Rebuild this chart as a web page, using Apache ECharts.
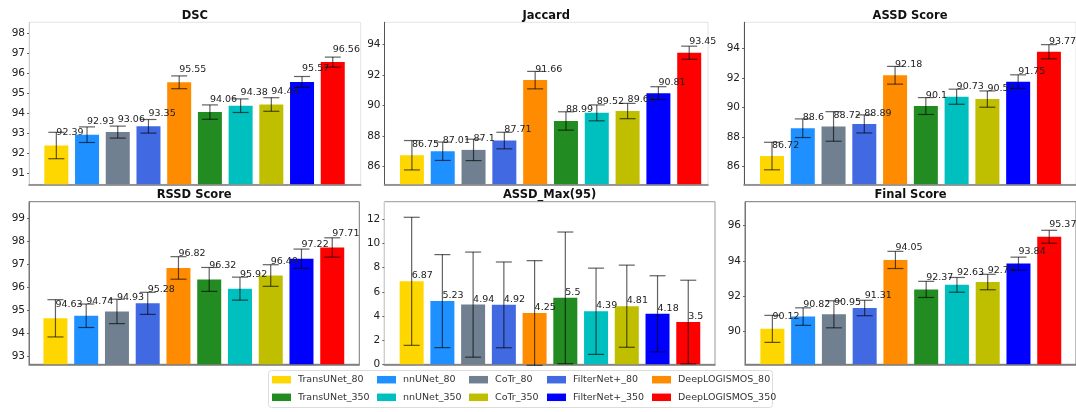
<!DOCTYPE html>
<html>
<head>
<meta charset="utf-8">
<script src="https://cdn.jsdelivr.net/npm/echarts@6/dist/echarts.min.js"></script>
<style>html,body{margin:0;padding:0;background:#fff;}#c{width:1076px;height:412px;}</style>
</head>
<body>
<div id="c"></div>
<script>
const models = ['TransUNet_80','nnUNet_80','CoTr_80','FilterNet+_80','DeepLOGISMOS_80','TransUNet_350','nnUNet_350','CoTr_350','FilterNet+_350','DeepLOGISMOS_350'];
const colors = ['#FFD700','#1E90FF','#708090','#4169E1','#FF8C00','#228B22','#00BFBF','#BFBF00','#0000FF','#FF0000'];

const titles = ['DSC','Jaccard','ASSD Score','RSSD Score','ASSD_Max(95)','Final Score'];

const dscVals = [92.39,92.93,93.06,93.35,95.55,94.06,94.38,94.44,95.57,96.56];
const dscErr  = [0.66,0.39,0.30,0.34,0.32,0.36,0.34,0.34,0.27,0.25];
const jacVals = [86.75,87.01,87.1,87.71,91.66,88.99,89.52,89.64,90.81,93.45];
const jacErr  = [0.96,0.60,0.70,0.54,0.57,0.60,0.52,0.50,0.42,0.43];
const assdVals = [86.72,88.6,88.72,88.89,92.18,90.1,90.73,90.57,91.75,93.77];
const assdErr  = [0.93,0.63,1.0,0.61,0.60,0.57,0.51,0.55,0.46,0.48];
const rssdVals = [94.63,94.74,94.93,95.28,96.82,96.32,95.92,96.49,97.22,97.71];
const rssdErr  = [0.81,0.51,0.53,0.48,0.49,0.52,0.50,0.47,0.42,0.42];
const maxVals = [6.87,5.23,4.94,4.92,4.25,5.5,4.39,4.81,4.18,3.5];
const maxErr  = [5.30,3.85,4.35,3.55,4.33,5.45,3.57,3.40,3.15,3.46];
const finalVals = [90.12,90.82,90.95,91.31,94.05,92.37,92.63,92.79,93.84,95.37];
const finalErr  = [0.77,0.50,0.77,0.44,0.49,0.46,0.42,0.44,0.37,0.37];

const dscTicks = [91,92,93,94,95,96,97,98];
const jacTicks = [86,88,90,92,94];
const assdTicks = [86,88,90,92,94];
const rssdTicks = [93,94,95,96,97,98,99];
const maxTicks = [0,2,4,6,8,10,12];
const finalTicks = [90,92,94,96];

const allVals = [dscVals, jacVals, assdVals, rssdVals, maxVals, finalVals];
const allErr = [dscErr, jacErr, assdErr, rssdErr, maxErr, finalErr];
const allTicks = [dscTicks, jacTicks, assdTicks, rssdTicks, maxTicks, finalTicks];

// layout / style per panel
const panels = [
  {left:29,   top:22.3,  width:331.7, height:162, xmin:-0.89, xmax:9.91, ymin:90.45, ymax:98.55, lab:13,   border:'#e3e3e3', yline:'#cfcfcf'},
  {left:384.5,top:22.3,  width:323.5, height:162, xmin:-0.89, xmax:9.61, ymin:84.85, ymax:95.44, lab:11,   border:'#e3e3e3', yline:'#555'},
  {left:744,  top:22.3,  width:332,   height:162, xmin:-0.91, xmax:9.88, ymin:84.81, ymax:95.76, lab:10.5, border:'#e3e3e3', yline:'#555'},
  {left:29,   top:201.7, width:330.3, height:162.6, xmin:-0.86, xmax:9.88, ymin:92.63, ymax:99.70, lab:14,  border:'#777', yline:'#777'},
  {left:384.3,top:201.7, width:330.7, height:162.6, xmin:-0.89, xmax:9.87, ymin:0,     ymax:13.46, lab:5.5, border:'#999', yline:'#cfcfcf'},
  {left:745,  top:201.7, width:331,   height:162.6, xmin:-0.89, xmax:9.87, ymin:88.1,  ymax:97.37, lab:12,  border:'#777', yline:'#777'}
];

const FONT = 'DejaVu Sans';
const grid = [], xAxis = [], yAxis = [], series = [], graphic = [];

panels.forEach((p, k) => {
  grid.push({left:p.left, top:p.top, width:p.width, height:p.height, show:true, borderColor:p.border, borderWidth:1, backgroundColor:'#fff'});
  xAxis.push({type:'value', gridIndex:k, min:p.xmin, max:p.xmax,
    axisLine:{show:true, onZero:false, lineStyle:{color:'#777', width:1.6}},
    axisTick:{show:false}, axisLabel:{show:false}, splitLine:{show:false}});
  yAxis.push({type:'value', gridIndex:k, min:p.ymin, max:p.ymax,
    axisLine:{show:true, onZero:false, lineStyle:{color:p.yline, width:1}},
    axisTick:{show:true, length:2, lineStyle:{color:'#666'}, customValues: allTicks[k]},
    axisLabel:{show:true, margin:4, fontSize:10.5, fontFamily:FONT, color:'#222', customValues: allTicks[k]},
    splitLine:{show:false}});
  const vals = allVals[k], errs = allErr[k];
  models.forEach((m, i) => {
    series.push({name:m, type:'bar', xAxisIndex:k, yAxisIndex:k, barWidth:24, barGap:'-100%',
      itemStyle:{color:colors[i]}, data:[[i, vals[i]]], z:2, animation:false});
  });
  const off = p.lab;
  series.push({type:'custom', xAxisIndex:k, yAxisIndex:k, z:5, animation:false, silent:true,
    data: vals.map((v, i) => [i, v, errs[i]]),
    encode:{x:0, y:1},
    renderItem: function(params, api){
      const i = api.value(0), v = api.value(1), e = api.value(2);
      const t = api.coord([i, v + e]), b = api.coord([i, v - e]), c = api.coord([i, v]);
      const hw = 8, stroke = 'rgba(0,0,0,0.62)';
      return {type:'group', children:[
        {type:'line', shape:{x1:t[0], y1:t[1], x2:b[0], y2:b[1]}, style:{stroke:stroke, lineWidth:1.2}},
        {type:'line', shape:{x1:t[0]-hw, y1:t[1], x2:t[0]+hw, y2:t[1]}, style:{stroke:stroke, lineWidth:1.2}},
        {type:'line', shape:{x1:b[0]-hw, y1:b[1], x2:b[0]+hw, y2:b[1]}, style:{stroke:stroke, lineWidth:1.2}},
        {type:'text', x:c[0], y:c[1]-off, style:{text:String(v), fill:'#222', font:'9.5px "DejaVu Sans"', align:'left', verticalAlign:'middle'}}
      ]};
    }
  });
  graphic.push({type:'text', x:p.left + p.width/2, y:(k < 3 ? 16 : 195), z:10,
    style:{text:titles[k], font:'bold 11.5px "DejaVu Sans"', fill:'#111', align:'center', verticalAlign:'middle'}});
});

graphic.push({type:'rect', shape:{x:268.5, y:370.5, width:504, height:37, r:3}, style:{fill:'#fff', stroke:'#dcdcdc', lineWidth:1}, z:-1});

const legendCols = [272, 377, 469, 547, 652];
const legend = legendCols.map((x, c) => ({
  orient:'vertical', left:x, top:373.7, padding:0, itemGap:5.6, itemWidth:19, itemHeight:7.5, icon:'rect',
  data:[models[c], models[c+5]], selectedMode:false,
  textStyle:{fontSize:9.5, fontFamily:FONT, color:'#333', lineHeight:12, padding:[0,0,0,2]}
}));

const chart = echarts.init(document.getElementById('c'), null, {renderer:'canvas'});
chart.setOption({animation:false, backgroundColor:'#fff', grid, xAxis, yAxis, series, legend, graphic});
</script>
</body>
</html>
